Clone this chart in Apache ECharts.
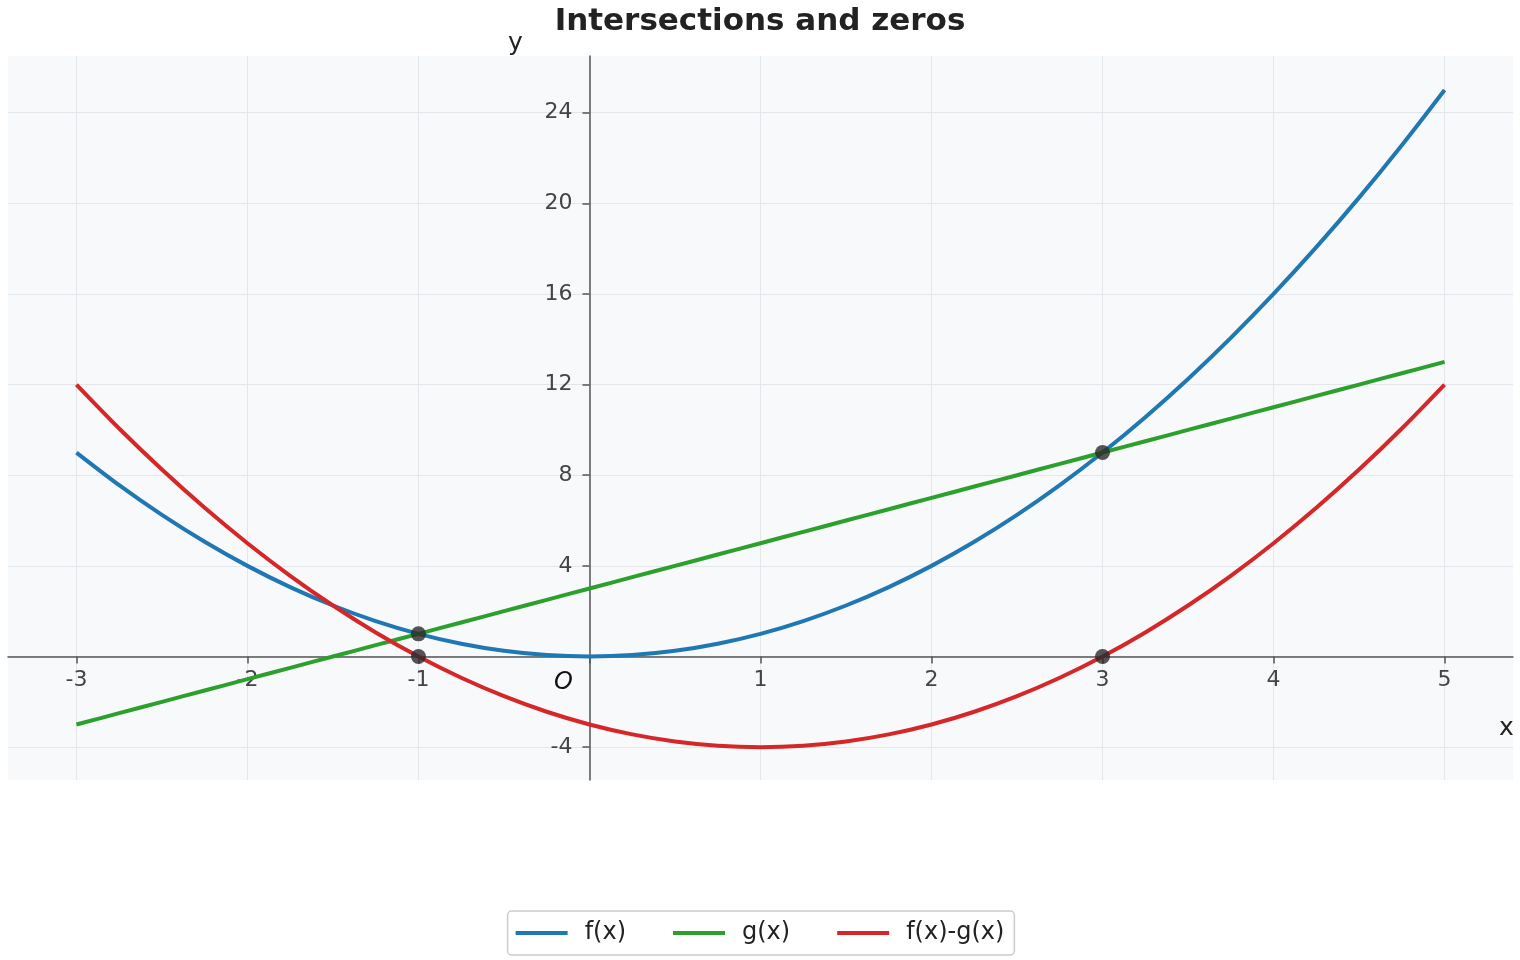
<!DOCTYPE html>
<html>
<head>
<meta charset="utf-8">
<script src="https://cdn.jsdelivr.net/npm/echarts@6/dist/echarts.min.js"></script>
<style>
  html, body { margin: 0; padding: 0; background: #fff; }
  #chart { width: 1520px; height: 960px; }
</style>
</head>
<body>
<div id="chart"></div>
<script>
var dom = document.getElementById('chart');
var myChart = echarts.init(dom, null, { renderer: 'canvas' });

// sample points
const xs = [-3, -2.75, -2.5, -2.25, -2, -1.75, -1.5, -1.25, -1, -0.75, -0.5, -0.25, 0,
  0.25, 0.5, 0.75, 1, 1.25, 1.5, 1.75, 2, 2.25, 2.5, 2.75, 3, 3.25, 3.5, 3.75, 4,
  4.25, 4.5, 4.75, 5];
const fVals = [9, 7.5625, 6.25, 5.0625, 4, 3.0625, 2.25, 1.5625, 1, 0.5625, 0.25, 0.0625, 0,
  0.0625, 0.25, 0.5625, 1, 1.5625, 2.25, 3.0625, 4, 5.0625, 6.25, 7.5625, 9, 10.5625, 12.25,
  14.0625, 16, 18.0625, 20.25, 22.5625, 25];
const gVals = [-3, -2.5, -2, -1.5, -1, -0.5, 0, 0.5, 1, 1.5, 2, 2.5, 3,
  3.5, 4, 4.5, 5, 5.5, 6, 6.5, 7, 7.5, 8, 8.5, 9, 9.5, 10, 10.5, 11, 11.5, 12, 12.5, 13];
const hVals = [12, 10.0625, 8.25, 6.5625, 5, 3.5625, 2.25, 1.0625, 0, -0.9375, -1.75, -2.4375, -3,
  -3.4375, -3.75, -3.9375, -4, -3.9375, -3.75, -3.4375, -3, -2.4375, -1.75, -0.9375, 0,
  1.0625, 2.25, 3.5625, 5, 6.5625, 8.25, 10.0625, 12];
const marks = [[-1, 1], [3, 9], [-1, 0], [3, 0]];

const seriesNames = ['f(x)', 'g(x)', 'f(x)-g(x)'];
const seriesColors = ['#1f77b4', '#2ca02c', '#d62728'];
const xTickValues = [-3, -2, -1, 0, 1, 2, 3, 4, 5];
const xLabelValues = [-3, -2, -1, 1, 2, 3, 4, 5];
const yTickValues = [-4, 0, 4, 8, 12, 16, 20, 24];
const yLabelValues = [-4, 4, 8, 12, 16, 20, 24];
const xRange = [-3.4, 5.4];
const yRange = [-5.45, 26.5];

const font = 'DejaVu Sans';
const W = 1520, H = 960;
const gridBox = { left: 8, right: 7, top: 56, bottom: 180 };
const plotW = W - gridBox.left - gridBox.right;
const plotH = H - gridBox.top - gridBox.bottom;
// shift each axis from the plot edge onto the other axis's zero
const xAxisOffset = -(0 - yRange[0]) / (yRange[1] - yRange[0]) * plotH;
const yAxisOffset = -(0 - xRange[0]) / (xRange[1] - xRange[0]) * plotW;

function pairs(ys) {
  return xs.map(function (x, i) { return [x, ys[i]]; });
}

const lineSeries = [fVals, gVals, hVals].map(function (ys, i) {
  return {
    name: seriesNames[i],
    type: 'line',
    data: pairs(ys),
    smooth: 0.3,
    showSymbol: false,
    lineStyle: { color: seriesColors[i], width: 4 },
    itemStyle: { color: seriesColors[i] },
    z: 3
  };
});

var option = {
  animation: false,
  backgroundColor: '#ffffff',
  title: {
    text: 'Intersections and zeros',
    left: 'center',
    top: 1,
    textStyle: { fontFamily: font, fontSize: 31, fontWeight: 'bold', color: '#222' }
  },
  legend: {
    data: seriesNames,
    bottom: 5,
    left: 'center',
    icon: 'rect',
    itemWidth: 52,
    itemHeight: 4,
    itemGap: 47,
    padding: [10, 10, 10, 8],
    borderColor: '#cccccc',
    borderWidth: 1.5,
    borderRadius: 4,
    textStyle: { fontFamily: font, fontSize: 24, color: '#222', padding: [0, 0, 0, 12] }
  },
  grid: {
    left: gridBox.left, right: gridBox.right, top: gridBox.top, bottom: gridBox.bottom,
    outerBoundsMode: 'none',
    containLabel: false,
    show: true, backgroundColor: '#f8f9fa', borderWidth: 0
  },
  xAxis: {
    type: 'value',
    position: 'bottom',
    offset: xAxisOffset,
    min: xRange[0], max: xRange[1],
    axisLine: { onZero: false, lineStyle: { color: '#555', width: 1.5 } },
    axisTick: { show: true, length: 7, customValues: xTickValues, lineStyle: { color: '#555', width: 1.5 } },
    axisLabel: { customValues: xLabelValues, fontFamily: font, fontSize: 22, color: '#444', margin: 13 },
    splitLine: { show: true, lineStyle: { color: '#e3e6ea', width: 1 } }
  },
  yAxis: {
    type: 'value',
    position: 'left',
    offset: yAxisOffset,
    min: yRange[0], max: yRange[1],
    axisLine: { onZero: false, lineStyle: { color: '#555', width: 1.5 } },
    axisTick: { show: true, length: 7, customValues: yTickValues, lineStyle: { color: '#555', width: 1.5 } },
    axisLabel: { customValues: yLabelValues, fontFamily: font, fontSize: 22, color: '#444', margin: 17 },
    splitLine: { show: true, lineStyle: { color: '#e3e6ea', width: 1 } }
  },
  graphic: [
    { type: 'text', left: 508, top: 31, style: { text: 'y', font: '25px "DejaVu Sans"', fill: '#222' } },
    { type: 'text', left: 1499, top: 716, style: { text: 'x', font: '25px "DejaVu Sans"', fill: '#222' } },
    { type: 'text', left: 554, top: 671, style: { text: 'O', font: 'italic 24px "DejaVu Sans"', fill: '#111' } }
  ],
  series: lineSeries.concat([{
    type: 'scatter',
    data: marks,
    symbolSize: 15,
    itemStyle: { color: '#2b2b2b' },
    z: 5
  }])
};

myChart.setOption(option);
window.addEventListener('resize', myChart.resize);
</script>
</body>
</html>
